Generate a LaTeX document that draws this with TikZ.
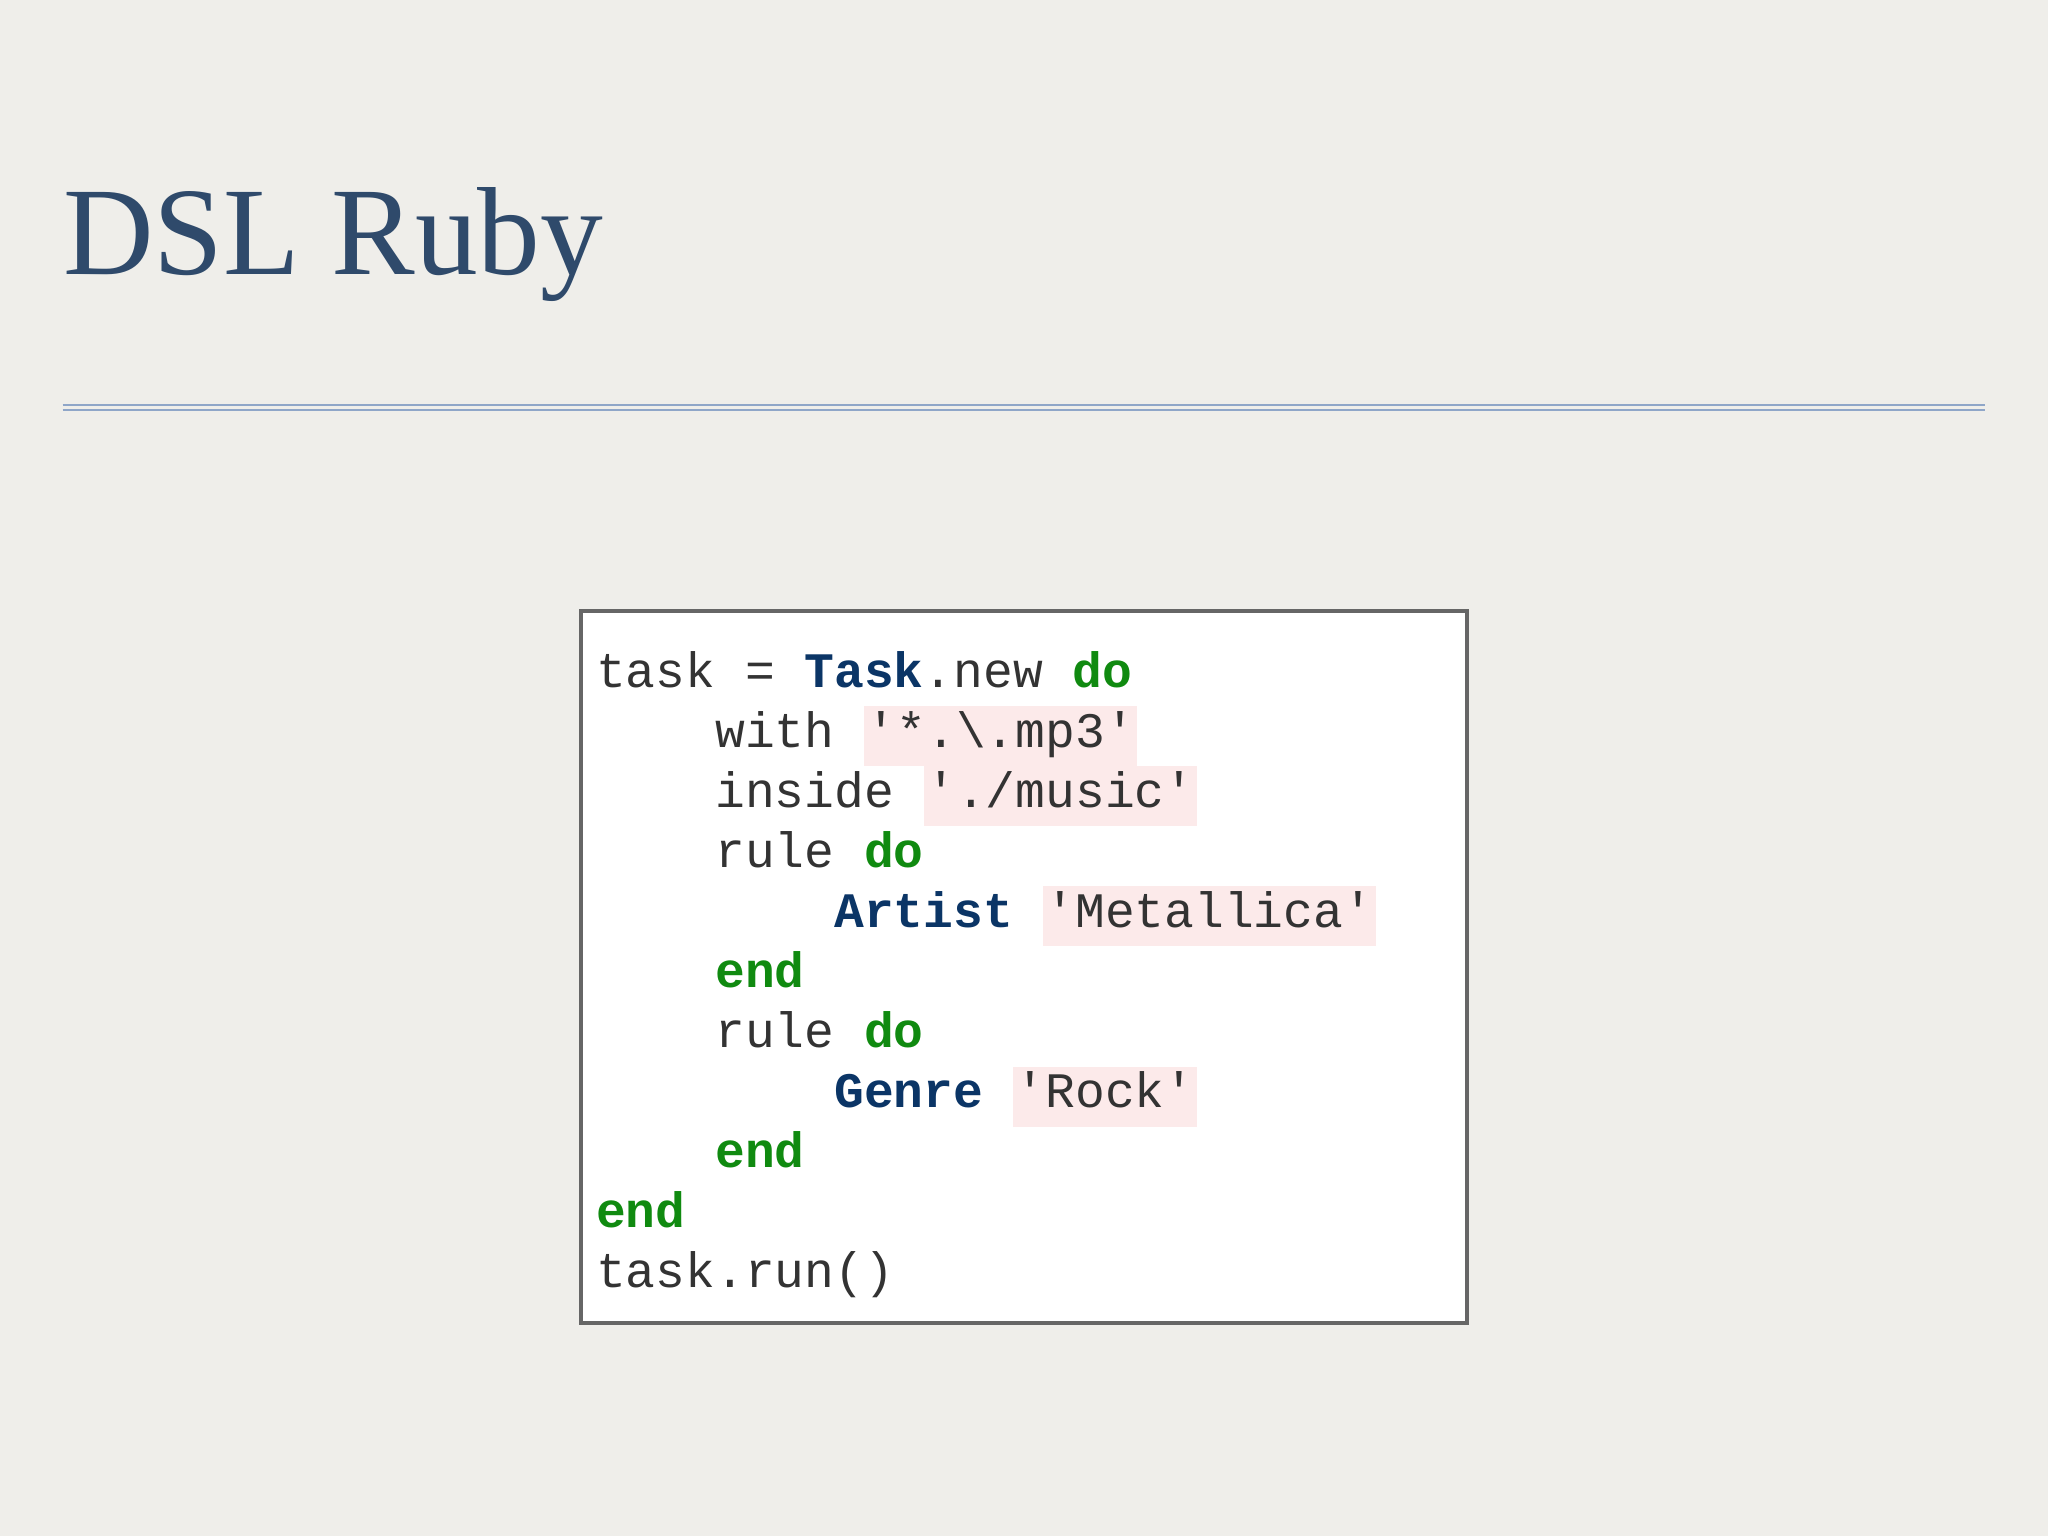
\documentclass[tikz,border=0pt]{standalone}
\usepackage{fontspec}
\setmainfont{Liberation Serif}
\setmonofont{Liberation Mono}
\definecolor{bg}{HTML}{EFEEEA}
\definecolor{titlec}{HTML}{2F4A6B}
\definecolor{rulec}{HTML}{8FA6C8}
\definecolor{kw}{HTML}{108A10}
\definecolor{cls}{HTML}{0B3566}
\definecolor{strbg}{HTML}{FCEAEA}
\definecolor{txt}{HTML}{333333}
\newcommand{\sq}[1]{{\setlength{\fboxsep}{1pt}\colorbox{strbg}{\strut #1}}}
\newcommand{\kwd}[1]{\textbf{\textcolor{kw}{#1}}}
\newcommand{\cl}[1]{\textbf{\textcolor{cls}{#1}}}
\begin{document}
\begin{tikzpicture}[x=0.5pt,y=-0.5pt,
  codeline/.style={anchor=base west,inner sep=0pt,font=\ttfamily\fontsize{19}{21}\selectfont,text=txt}]
\useasboundingbox (0,0) rectangle (1568,1176);
\fill[bg] (0,0) rectangle (1568,1176);
\node[anchor=base west,inner sep=0pt,text=titlec,font=\fontsize{48}{48}\selectfont] (title) at (48,210) {DSL Ruby};
\draw[rulec,line width=0.6pt] (48,310) -- (1520,310);
\draw[rulec,line width=0.6pt] (48,314) -- (1520,314);
\draw[fill=white,draw=black!60,line width=1.6pt] (445,468) rectangle (1123,1013);
\node[codeline] (l1) at (456,526) {task = \cl{Task}.new \kwd{do}};
\node[codeline] (l2) at (456,572) {\phantom{xxxx}with \sq{'*.\textbackslash.mp3'}};
\node[codeline] (l3) at (456,618) {\phantom{xxxx}inside \sq{'./music'}};
\node[codeline] (l4) at (456,664) {\phantom{xxxx}rule \kwd{do}};
\node[codeline] (l5) at (456,710) {\phantom{xxxxxxxx}\cl{Artist} \sq{'Metallica'}};
\node[codeline] (l6) at (456,756) {\phantom{xxxx}\kwd{end}};
\node[codeline] (l7) at (456,802) {\phantom{xxxx}rule \kwd{do}};
\node[codeline] (l8) at (456,848) {\phantom{xxxxxxxx}\cl{Genre} \sq{'Rock'}};
\node[codeline] (l9) at (456,894) {\phantom{xxxx}\kwd{end}};
\node[codeline] (l10) at (456,940) {\kwd{end}};
\node[codeline] (l11) at (456,986) {task.run()};
\end{tikzpicture}
\end{document}
